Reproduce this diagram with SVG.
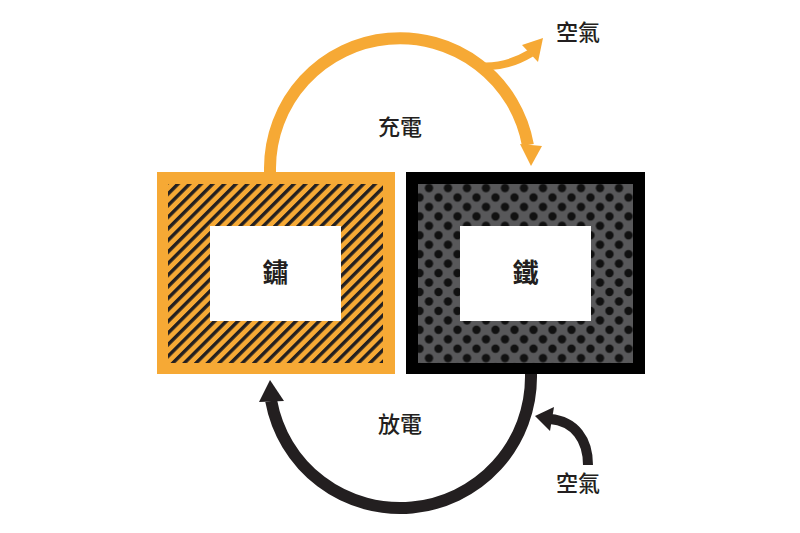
<svg xmlns="http://www.w3.org/2000/svg" width="800" height="533" viewBox="0 0 800 533">
  <style>
    .lbl { font-family: "Noto Sans CJK TC", "Noto Sans CJK SC", sans-serif; font-size: 22px; font-weight: 500; fill: #231f20; text-anchor: middle; dominant-baseline: central; }
    .big { font-size: 26px; font-weight: 700; }
    .orange { fill: none; stroke: #f6a935; }
    .dark { fill: none; stroke: #231f20; }
  </style>
  <defs>
    <pattern id="hatch" patternUnits="userSpaceOnUse" width="8.2" height="8.2" patternTransform="rotate(45)">
      <rect x="0" y="0" width="8.2" height="8.2" fill="#f6a935"/>
      <rect x="0" y="0" width="3.4" height="8.2" fill="#231f20"/>
    </pattern>
    <pattern id="dots" patternUnits="userSpaceOnUse" x="419.5" y="178.6" width="19" height="18.9">
      <rect x="0" y="0" width="19" height="18.9" fill="#58585a"/>
      <circle cx="9.5" cy="9.45" r="4.2" fill="#111"/>
      <circle cx="0" cy="0" r="4.2" fill="#111"/>
      <circle cx="19" cy="0" r="4.2" fill="#111"/>
      <circle cx="0" cy="18.9" r="4.2" fill="#111"/>
      <circle cx="19" cy="18.9" r="4.2" fill="#111"/>
    </pattern>
  </defs>
  <rect width="800" height="533" fill="#ffffff"/>

  <g id="connectors">
    <!-- charge arc -->
    <path class="orange" stroke-width="12" d="M 270 174 L 270 168 A 130 130 0 0 1 527.9 145"/>
    <polygon points="520,144 542,146 531,166" fill="#f6a935"/>
    <!-- air out branch -->
    <path class="orange" stroke-width="8" d="M 478 66 C 498 68 516 62 531 53"/>
    <polygon points="522,45 538,62 543,38" fill="#f6a935"/>
    <!-- discharge arc -->
    <path class="dark" stroke-width="12" d="M 531 372 L 531 377 A 131 131 0 0 1 271.2 401"/>
    <polygon points="259,402 284,401 270,380" fill="#231f20"/>
    <!-- air in -->
    <path class="dark" stroke-width="10" d="M 588 465 C 588 440 575 421 550 419"/>
    <polygon points="554,407 550,431 535,416" fill="#231f20"/>
    <text class="lbl" x="400" y="125">充電</text>
    <text class="lbl" x="400" y="422">放電</text>
    <text class="lbl" x="578" y="30">空氣</text>
    <text class="lbl" x="578" y="481">空氣</text>
  </g>

  <g id="rust">
    <rect x="157" y="172" width="238" height="202" fill="#f6a935"/>
    <rect x="168" y="184" width="215" height="179" fill="url(#hatch)"/>
    <rect x="210" y="226" width="131" height="95" fill="#ffffff"/>
    <text class="lbl big" x="275.5" y="270">鏽</text>
  </g>

  <g id="iron">
    <rect x="406" y="172" width="239" height="202" fill="#000000"/>
    <rect x="418" y="184" width="215" height="179" fill="url(#dots)"/>
    <rect x="460" y="226" width="131" height="95" fill="#ffffff"/>
    <text class="lbl big" x="525.5" y="270">鐵</text>
  </g>
</svg>
